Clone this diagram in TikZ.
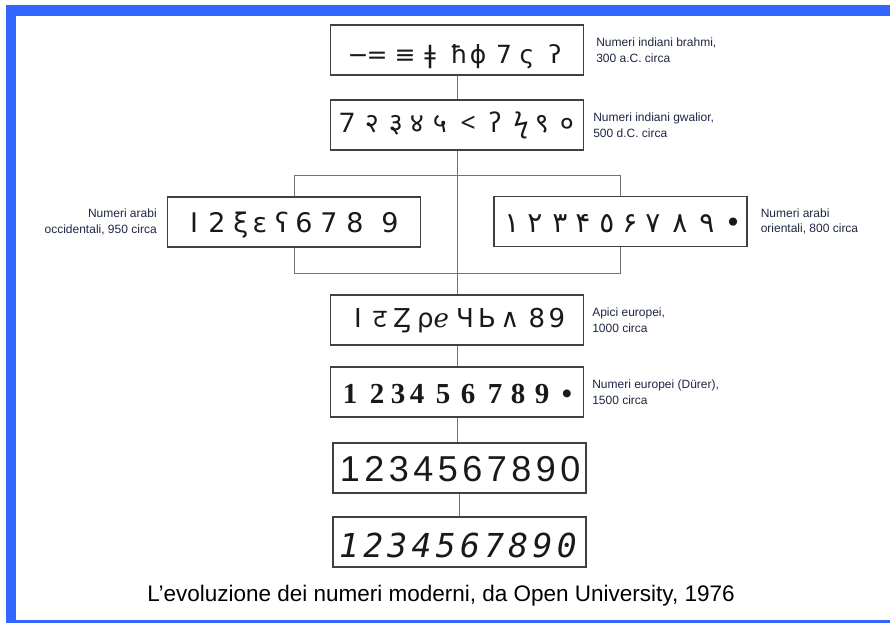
\documentclass[tikz,border=0pt]{standalone}
\usepackage{fontspec}
\setmainfont{Liberation Sans}
\newfontfamily\dejavu{DejaVu Sans}
\newfontfamily\deva[Script=Devanagari]{Noto Sans}
\newfontfamily\durerserif{Liberation Serif}
\newfontfamily\calcmono{DejaVu Sans Mono}
\usetikzlibrary{positioning}

\definecolor{frameblue}{RGB}{51,102,255}
\definecolor{labelink}{RGB}{30,38,66}

\tikzset{
  numbox/.style={draw=black!75, line width=1.2pt, minimum width=253pt, minimum height=50pt, inner sep=0pt},
  conn/.style={draw=black!55, line width=0.9pt},
  lbl/.style={font=\fontsize{12}{15.5}\selectfont, text=labelink, inner sep=0pt},
  glyph/.style={inner sep=0pt, anchor=base, text=black!90},
  brahmirow/.style={glyph, font=\dejavu\fontsize{25}{25}\selectfont},
  gwaliorrow/.style={glyph, font=\deva\fontsize{27}{27}\selectfont},
  occrow/.style={glyph, font=\dejavu\fontsize{27}{27}\selectfont},
  orirow/.style={glyph, font=\dejavu\fontsize{28}{28}\selectfont},
  apicirow/.style={glyph, font=\dejavu\fontsize{26}{26}\selectfont},
  durerrow/.style={glyph, font=\durerserif\bfseries\fontsize{29}{29}\selectfont},
  modernrow/.style={glyph, font=\fontsize{36}{36}\selectfont},
  italicrow/.style={glyph, font=\calcmono\itshape\fontsize{33}{33}\selectfont}
}

\begin{document}
\begin{tikzpicture}[x=1pt, y=-1pt]
\useasboundingbox (0,0) rectangle (890,623);

% blue frame
\fill[frameblue] (6,5) rectangle (890,16);
\fill[frameblue] (6,5) rectangle (16,623);
\fill[frameblue] (6,620) rectangle (890,623);

% boxes
\node[numbox] (brahmi) at (457,50) {};
\node[numbox] (gwalior) at (457,125) {};
\node[numbox] (occid) at (294,222) {};
\node[numbox] (orient) at (620.5,221.5) {};
\node[numbox] (apici) at (457,320) {};
\node[numbox] (durer) at (457,392) {};
\node[numbox] (modern) at (459.5,468) {};
\node[numbox] (italic) at (459.5,542) {};

% connectors
\coordinate (split) at (457,175);
\coordinate (merge) at (457,273);
\draw[conn] (brahmi) -- (gwalior);
\draw[conn] (gwalior) -- (apici);
\draw[conn] (split) -| (occid.north);
\draw[conn] (occid.south) |- (merge);
\draw[conn] (split) -| (orient.north);
\draw[conn] (orient.south) |- (merge);
\draw[conn] (apici) -- (durer);
\draw[conn] (durer.south) -- (durer.south |- modern.north);
\draw[conn] (modern) -- (italic);

% numerals
\foreach \x/\g [count=\i] in {358/−,377/=,405/≡,430/ǂ,459/ħ,478/ϕ,504/7,527/ς,555/ʔ}
  \node[brahmirow] (br\i) at (\x,64) {\g};
\foreach \x/\g [count=\i] in {347/7,372/२,396/३,417/४,440/५,468/<,495/ʔ,521/ϟ,542/९,567/०}
  \node[gwaliorrow] (gw\i) at (\x,132) {\g};
\foreach \x/\g [count=\i] in {194/I,217/2,241/ξ,260/ɛ,282/ʕ,304/6,329/7,355/8,390/9}
  \node[occrow] (oc\i) at (\x,232) {\g};
\foreach \x/\g [count=\i] in {512/١,535/٢,560/٣,583/۴,607/٥,630/۶,653/٧,680/٨,707/٩,733/•}
  \node[orirow] (or\i) at (\x,232) {\g};
\foreach \x/\g [count=\i] in {358/I,380/{\deva ट},402/Ȥ,433/ρℯ,465/Ч,487/Ь,510/∧,537/8,557/9}
  \node[apicirow] (ap\i) at (\x,327) {\g};
\foreach \x/\g [count=\i] in {350/1,377/2,398/3,417/4,443/5,468/6,495/7,518/8,542/9,567/•}
  \node[durerrow] (du\i) at (\x,403) {\g};
\foreach \g [count=\i from 0] in {1,2,3,4,5,6,7,8,9,0}
  \node[modernrow] (mo\i) at (350+24.5*\i,481) {\g};
\foreach \g [count=\i from 0] in {1,2,3,4,5,6,7,8,9,0}
  \node[italicrow] (it\i) at (349+24.2*\i,557) {\g};

% labels
\node[lbl, align=left, right=12pt of brahmi] (lbrahmi) {Numeri indiani brahmi,\\300 a.C. circa};
\node[lbl, align=left, right=9pt of gwalior] (lgwalior) {Numeri indiani gwalior,\\500 d.C. circa};
\node[lbl, align=right, left=10pt of occid] (loccid) {Numeri arabi\\occidentali, 950 circa};
\node[lbl, align=left, right=13pt of orient] (lorient) {Numeri arabi\\orientali, 800 circa};
\node[lbl, align=left, right=8pt of apici] (lapici) {Apici europei,\\1000 circa};
\node[lbl, align=left, right=8pt of durer] (ldurer) {Numeri europei (Dürer),\\1500 circa};

% caption
\node[font=\fontsize{22.5}{27}\selectfont, anchor=base, inner sep=0pt] (caption) at (441,601) {L’evoluzione dei numeri moderni, da Open University, 1976};
\end{tikzpicture}
\end{document}
